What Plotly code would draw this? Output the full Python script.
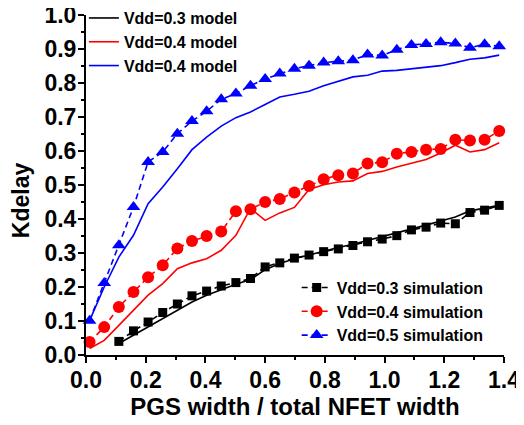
import plotly.graph_objects as go

# PGS width / total NFET width
x_vals = [0.012, 0.061, 0.110, 0.159, 0.208, 0.257, 0.306, 0.355, 0.404, 0.453,
          0.502, 0.551, 0.600, 0.649, 0.698, 0.747, 0.796, 0.845, 0.894, 0.943,
          0.992, 1.041, 1.090, 1.139, 1.188, 1.237, 1.286, 1.335, 1.384]
x_vals_03 = x_vals[2:]

# models
model_03 = [0.034, 0.058, 0.082, 0.107, 0.131, 0.156, 0.176, 0.193, 0.208, 0.222,
            0.251, 0.269, 0.283, 0.294, 0.306, 0.316, 0.326, 0.337, 0.347, 0.359,
            0.371, 0.382, 0.394, 0.406, 0.424, 0.432, 0.440]
model_04 = [0.019, 0.043, 0.087, 0.131, 0.176, 0.210, 0.254, 0.271, 0.283, 0.308,
            0.352, 0.431, 0.396, 0.418, 0.434, 0.487, 0.501, 0.509, 0.512, 0.534,
            0.540, 0.553, 0.563, 0.575, 0.594, 0.617, 0.597, 0.604, 0.624]
model_05 = [0.101, 0.200, 0.288, 0.352, 0.445, 0.494, 0.548, 0.604, 0.641, 0.673,
            0.698, 0.715, 0.737, 0.759, 0.767, 0.776, 0.792, 0.806, 0.818, 0.823,
            0.835, 0.837, 0.842, 0.847, 0.851, 0.860, 0.870, 0.874, 0.882]

# simulations
sim_03 = [0.040, 0.071, 0.097, 0.125, 0.150, 0.174, 0.188, 0.203, 0.213, 0.225,
          0.259, 0.271, 0.285, 0.294, 0.304, 0.312, 0.322, 0.333, 0.341, 0.351,
          0.368, 0.376, 0.388, 0.386, 0.419, 0.426, 0.440]
sim_04 = [0.038, 0.082, 0.141, 0.185, 0.229, 0.264, 0.313, 0.335, 0.350, 0.363,
          0.423, 0.429, 0.450, 0.459, 0.478, 0.497, 0.517, 0.529, 0.534, 0.563,
          0.567, 0.592, 0.597, 0.604, 0.606, 0.633, 0.631, 0.633, 0.659]
sim_05 = [0.101, 0.212, 0.323, 0.435, 0.568, 0.597, 0.651, 0.688, 0.717, 0.752,
          0.769, 0.792, 0.812, 0.828, 0.842, 0.851, 0.860, 0.864, 0.867, 0.884,
          0.881, 0.898, 0.912, 0.915, 0.920, 0.916, 0.904, 0.914, 0.908]

FONT = "Liberation Sans, Arial, sans-serif"
fig = go.Figure()

# simulation traces (dashed with markers), legend2
sims = [
    ("Vdd=0.3 simulation", x_vals_03, sim_03, "black", "square", 9),
    ("Vdd=0.4 simulation", x_vals, sim_04, "red", "circle", 12),
    ("Vdd=0.5 simulation", x_vals, sim_05, "blue", "triangle-up", 12),
]
for name, xs, ys, c, sym, sz in sims:
    fig.add_trace(go.Scatter(
        x=xs, y=ys, name=name, mode="lines+markers",
        line=dict(color=c, width=1.6, dash="6px,4px"),
        marker=dict(color=c, symbol=sym, size=sz, line=dict(width=0)),
        legend="legend2", cliponaxis=False))

# model traces (solid), legend
models = [
    ("Vdd=0.3 model", x_vals_03, model_03, "black"),
    ("Vdd=0.4 model", x_vals, model_04, "red"),
    ("Vdd=0.4 model", x_vals, model_05, "blue"),
]
for name, xs, ys, c in models:
    fig.add_trace(go.Scatter(
        x=xs, y=ys, name=name, mode="lines",
        line=dict(color=c, width=1.6), legend="legend"))

axis_common = dict(
    showline=True, linecolor="black", linewidth=2,
    ticks="outside", ticklen=6, tickwidth=2, tickcolor="black",
    showgrid=False, zeroline=False, mirror=False,
    ticklabeloverflow="allow", ticklabelstandoff=-3,
    tickfont=dict(family=FONT, size=23, color="black", weight="bold"),
)

fig.update_xaxes(
    range=[0, 1.4], tick0=0, dtick=0.2, tickformat=".1f", tickangle=0,
    minor=dict(ticks="outside", ticklen=3, tickwidth=1.5, tickcolor="black", dtick=0.1, showgrid=False),
    title=dict(text="PGS width / total NFET width", standoff=2,
               font=dict(family=FONT, size=24, color="black", weight="bold")),
    **axis_common)
fig.update_yaxes(
    range=[0, 1.0], tick0=0, dtick=0.1, tickformat=".1f",
    minor=dict(ticks="outside", ticklen=3, tickwidth=1.5, tickcolor="black", dtick=0.05, showgrid=False),
    **axis_common)

fig.add_annotation(
    text="Kdelay", textangle=-90, showarrow=False,
    xref="paper", yref="paper", x=-0.155, y=0.456,
    xanchor="center", yanchor="middle",
    font=dict(family=FONT, size=23, color="black", weight="bold"))

leg_font = dict(family=FONT, size=16, color="black", weight="bold")
fig.update_layout(
    width=516, height=417,
    margin=dict(l=78, r=20, t=7, b=70, autoexpand=False),
    paper_bgcolor="white", plot_bgcolor="white",
    font=dict(family=FONT, color="black"),
    legend=dict(x=-0.005, y=1.041, xanchor="left", yanchor="top",
                bgcolor="rgba(0,0,0,0)", font=leg_font, tracegroupgap=0,
                itemwidth=30),
    legend2=dict(x=0.504, y=0.007, xanchor="left", yanchor="bottom",
                 bgcolor="rgba(0,0,0,0)", font=leg_font, tracegroupgap=0,
                 itemwidth=30),
)

fig.write_html("out.html")
